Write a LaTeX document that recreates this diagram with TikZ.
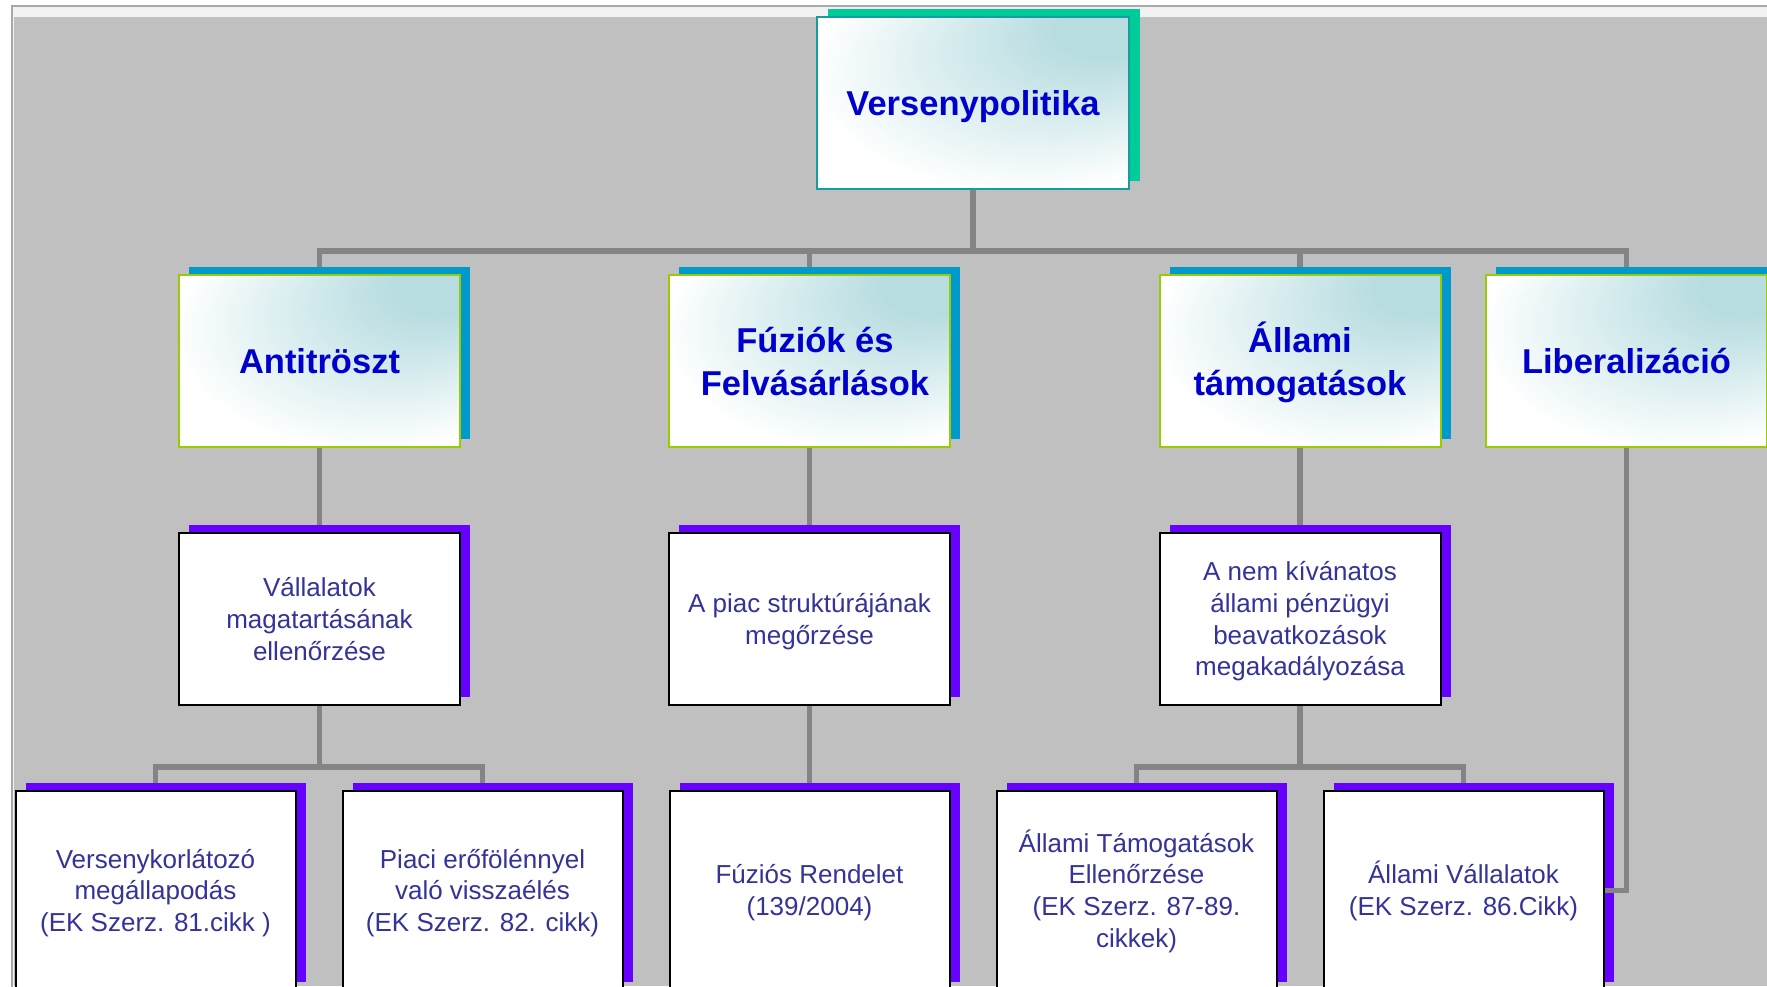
\documentclass[tikz,border=0pt]{standalone}
\usepackage{fontspec}
\setmainfont{Liberation Sans}
\usetikzlibrary{shadows}
\definecolor{bgray}{RGB}{192,192,192}
\definecolor{framegray}{RGB}{168,168,168}
\definecolor{framelight}{RGB}{242,242,242}
\definecolor{conncol}{RGB}{132,132,132}
\definecolor{tealL}{RGB}{184,221,225}
\definecolor{topborder}{RGB}{20,158,158}
\definecolor{topshadow}{RGB}{0,204,153}
\definecolor{twoborder}{RGB}{153,204,0}
\definecolor{twoshadow}{RGB}{0,153,204}
\definecolor{lowshadow}{RGB}{102,0,255}
\definecolor{titleblue}{RGB}{0,0,204}
\definecolor{subblue}{RGB}{51,51,153}
\pgfdeclareradialshading{cornerteal}{\pgfpoint{25bp}{25bp}}{color(0bp)=(tealL); color(8bp)=(tealL); color(34bp)=(white); color(50bp)=(white)}
\pgfdeclarelayer{bg}
\pgfdeclarelayer{lines}
\pgfsetlayers{bg,lines,main}
% struts that fix the vertical placement of text lines
\newcommand\tstrA{\rule{0pt}{38pt}}
\newcommand\tstrB{\rule[-12.9pt]{0pt}{12.9pt}}
\newcommand\sstrA{\rule{0pt}{28.1pt}}
\newcommand\sstrB{\rule[-9.5pt]{0pt}{9.5pt}}
\tikzset{
  boxbase/.style={rectangle, inner sep=0pt, align=center, line width=2pt},
  lvlone/.style={boxbase, draw=topborder, shading=cornerteal, minimum width=312pt, minimum height=172pt,
    font=\fontsize{34.5}{43}\selectfont\bfseries, text=titleblue,
    general shadow={fill=topshadow, shadow xshift=11pt, shadow yshift=8pt}},
  lvltwo/.style={boxbase, draw=twoborder, shading=cornerteal, minimum width=281pt, minimum height=172pt,
    font=\fontsize{34.5}{43}\selectfont\bfseries, text=titleblue,
    general shadow={fill=twoshadow, shadow xshift=10pt, shadow yshift=8pt}},
  lvlthree/.style={boxbase, draw=black, fill=white, minimum width=281pt, minimum height=172pt,
    font=\fontsize{26}{31.7}\selectfont, text=subblue,
    general shadow={fill=lowshadow, shadow xshift=10pt, shadow yshift=8pt}},
  lvlfour/.style={lvlthree, minimum width=280pt, minimum height=199pt},
  conn/.style={draw=conncol, line width=5.5pt}
}
\begin{document}
\begin{tikzpicture}[x=1pt,y=-1pt]
\useasboundingbox (0,0) rectangle (1767,986);
\clip (0,0) rectangle (1767,986);
\begin{pgfonlayer}{bg}
  \fill[white] (0,0) rectangle (1767,986);
  \fill[framelight] (12,6) rectangle (1767,986);
  \draw[framegray, line width=2pt] (12,1000) -- (12,6) -- (1780,6);
  \fill[bgray] (14,17) rectangle (1767,986);
\end{pgfonlayer}

% level 1
\node[lvlone] (top) at (973,103) {\tstrA Versenypolitika\tstrB};
% level 2
\node[lvltwo] (anti) at (319.5,361) {\tstrA Antitröszt\tstrB};
\node[lvltwo] (fuz) at (809.5,361) {\tstrA\hspace*{11pt}Fúziók és\\\hspace*{11pt}Felvásárlások\tstrB};
\node[lvltwo] (all) at (1300,361) {\tstrA Állami\\támogatások\tstrB};
\node[lvltwo] (lib) at (1626.5,361) {\tstrA Liberalizáció\tstrB};
% level 3
\node[lvlthree] (vall) at (319.5,619) {\sstrA Vállalatok\\magatartásának\\ellenőrzése\sstrB};
\node[lvlthree] (piac) at (809.5,619) {\sstrA A piac struktúrájának\\megőrzése\sstrB};
\node[lvlthree] (nemk) at (1300,619) {\sstrA A nem kívánatos\\állami pénzügyi\\beavatkozások\\megakadályozása\sstrB};
% level 4
\node[lvlfour] (vk) at (155.5,890.5) {\sstrA Versenykorlátozó\\megállapodás\\(EK Szerz. 81.cikk )\sstrB};
\node[lvlfour] (pe) at (482.5,890.5) {\sstrA Piaci erőfölénnyel\\való visszaélés\\(EK Szerz. 82. cikk)\sstrB};
\node[lvlfour] (fr) at (809.5,890.5) {\sstrA Fúziós Rendelet\\(139/2004)\sstrB};
\node[lvlfour] (atam) at (1136.5,890.5) {\sstrA Állami Támogatások\\Ellenőrzése\\(EK Szerz. 87-89.\\cikkek)\sstrB};
\node[lvlfour] (avall) at (1463.5,890.5) {\sstrA Állami Vállalatok\\(EK Szerz. 86.Cikk)\sstrB};

\coordinate (busa) at (0,251);
\coordinate (busb) at (0,767);
\begin{pgfonlayer}{lines}
  \draw[conn] (top.south) -- (top.south |- busa);
  \draw[conn] (anti.north) -- (anti.north |- busa) -- (lib.north |- busa) -- (lib.north);
  \draw[conn] (fuz.north) -- (fuz.north |- busa);
  \draw[conn] (all.north) -- (all.north |- busa);
  \draw[conn] (anti.south) -- (vall.north);
  \draw[conn] (fuz.south) -- (piac.north);
  \draw[conn] (all.south) -- (nemk.north);
  \draw[conn] (vall.south) -- (vall.south |- busb);
  \draw[conn] (vk.north) -- (vk.north |- busb) -- (pe.north |- busb) -- (pe.north);
  \draw[conn] (piac.south) -- (fr.north);
  \draw[conn] (nemk.south) -- (nemk.south |- busb);
  \draw[conn] (atam.north) -- (atam.north |- busb) -- (avall.north |- busb) -- (avall.north);
\end{pgfonlayer}
\draw[conn] (lib.south) |- (avall.east);
\end{tikzpicture}
\end{document}
